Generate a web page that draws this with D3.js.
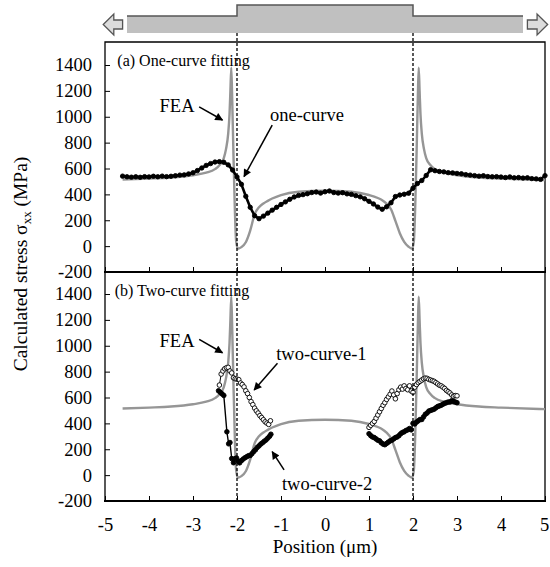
<!DOCTYPE html>
<html>
<head>
<meta charset="utf-8">
<script src="https://cdn.jsdelivr.net/npm/d3@7"></script>
<style>
  body { margin: 0; background: #fff; }
  svg { display: block; }
  text { font-family: "Liberation Serif", "Times New Roman", serif; fill: #000; }
</style>
</head>
<body>
<svg id="chart" width="550" height="567"></svg>
<script>
// ---- data: [position (um), stress (MPa)] ----
const xTicks = [-5, -4, -3, -2, -1, 0, 1, 2, 3, 4, 5];
const yTicks = [-200, 0, 200, 400, 600, 800, 1000, 1200, 1400];
const interfaces = [-2, 2];

const fea = [
  [-4.6,515],[-4.0,522],[-3.5,530],[-3.0,548],[-2.7,568],[-2.5,595],[-2.4,625],[-2.3,680],
  [-2.25,750],[-2.2,870],[-2.17,1020],[-2.15,1200],[-2.13,1380],[-2.11,1150],[-2.08,700],
  [-2.05,300],[-2.02,40],[-1.98,-20],[-1.9,-8],[-1.8,30],[-1.7,120],[-1.6,245],[-1.5,300],
  [-1.4,330],[-1.3,350],[-1.2,368],[-1.0,395],[-0.6,420],[0,428],[0.6,420],[1.0,395],
  [1.2,372],[1.3,355],[1.4,328],[1.5,285],[1.6,195],[1.7,100],[1.8,33],[1.9,-5],[1.98,-20],
  [2.02,40],[2.05,300],[2.08,700],[2.11,1150],[2.13,1380],[2.15,1200],[2.17,1020],[2.2,870],
  [2.25,750],[2.3,680],[2.4,625],[2.5,595],[2.7,568],[3.0,548],[3.5,530],[4.0,522],[5.0,510]
];

const oneCurve = [
  [-4.6,541],[-4.5,536],[-4.4,533],[-4.3,536],[-4.2,532],[-4.1,537],[-4.0,535],[-3.9,540],
  [-3.8,536],[-3.7,541],[-3.6,537],[-3.5,540],[-3.4,544],[-3.3,549],[-3.2,551],[-3.1,558],
  [-3.0,567],[-2.9,584],[-2.8,604],[-2.7,624],[-2.6,638],[-2.5,650],[-2.4,653],[-2.3,648],
  [-2.2,628],[-2.1,588],[-2.0,535],[-1.9,478],[-1.8,385],[-1.7,300],[-1.6,235],[-1.5,212],
  [-1.4,232],[-1.3,255],[-1.2,278],[-1.1,300],[-1.0,322],[-0.9,342],[-0.8,362],[-0.7,380],
  [-0.6,392],[-0.5,398],[-0.4,405],[-0.3,414],[-0.2,418],[-0.1,410],[0.0,420],[0.1,426],
  [0.2,414],[0.3,410],[0.4,413],[0.5,404],[0.6,400],[0.7,390],[0.8,381],[0.9,366],
  [1.0,346],[1.1,326],[1.2,302],[1.3,285],[1.4,304],[1.5,335],[1.6,383],[1.7,395],
  [1.8,401],[1.9,409],[2.0,448],[2.1,484],[2.2,507],[2.3,546],[2.4,590],[2.5,583],
  [2.6,577],[2.7,574],[2.8,568],[2.9,566],[3.0,562],[3.1,559],[3.2,553],[3.3,549],
  [3.4,545],[3.5,541],[3.6,544],[3.7,538],[3.8,536],[3.9,537],[4.0,534],[4.1,530],
  [4.2,535],[4.3,528],[4.4,530],[4.5,526],[4.6,528],[4.7,522],[4.8,520],[4.9,516],[5.0,545]
];

const twoCurve1Left = [
  [-2.40,696],[-2.36,781],[-2.32,805],[-2.28,822],[-2.24,830],[-2.20,833],[-2.16,805],[-2.12,790],
  [-2.08,752],[-2.04,745],[-2.00,742],[-1.96,738],[-1.92,712],[-1.88,700],[-1.84,682],[-1.80,652],
  [-1.76,630],[-1.72,600],[-1.68,568],[-1.64,545],[-1.60,518],[-1.56,497],[-1.52,480],[-1.48,460],
  [-1.44,445],[-1.40,428],[-1.36,412],[-1.32,402],[-1.28,392],[-1.24,420]
];
const twoCurve1Right = [
  [1.00,369],[1.04,385],[1.08,400],[1.12,415],[1.16,440],[1.20,465],[1.24,490],[1.28,515],
  [1.32,540],[1.36,560],[1.40,585],[1.44,605],[1.48,625],[1.52,650],[1.56,620],[1.60,590],
  [1.64,630],[1.68,660],[1.72,680],[1.76,665],[1.80,690],[1.84,670],[1.88,660],[1.92,690],
  [1.96,650],[2.00,640],[2.04,680],[2.08,700],[2.12,715],[2.16,725],[2.20,735],[2.24,745],
  [2.28,750],[2.32,748],[2.36,740],[2.40,735],[2.44,730],[2.48,725],[2.52,715],[2.56,705],
  [2.60,695],[2.64,690],[2.68,680],[2.72,670],[2.76,655],[2.80,645],[2.84,635],[2.88,620],
  [2.92,610],[2.96,615],[3.00,613]
];
const twoCurve2Left = [
  [-2.42,652],[-2.38,640],[-2.34,628],[-2.30,616],[-2.23,335],[-2.19,242],[-2.16,252],[-2.12,128],
  [-2.08,96],[-2.04,128],[-2.01,132],[-1.97,108],[-1.94,95],[-1.90,112],[-1.86,124],[-1.82,134],
  [-1.78,142],[-1.74,150],[-1.70,152],[-1.66,166],[-1.62,182],[-1.58,196],[-1.54,214],[-1.50,226],
  [-1.46,240],[-1.42,250],[-1.38,262],[-1.34,272],[-1.30,286],[-1.26,300],[-1.23,316]
];
const twoCurve2Right = [
  [1.00,320],[1.04,305],[1.08,295],[1.12,290],[1.16,280],[1.20,270],[1.24,265],[1.28,250],
  [1.32,240],[1.36,235],[1.40,245],[1.44,255],[1.48,265],[1.52,270],[1.56,280],[1.60,290],
  [1.64,295],[1.68,305],[1.72,320],[1.76,330],[1.80,335],[1.84,345],[1.88,350],[1.92,360],
  [1.96,350],[2.00,400],[2.04,395],[2.08,410],[2.12,420],[2.16,430],[2.20,430],[2.24,450],
  [2.28,470],[2.32,480],[2.36,495],[2.40,500],[2.44,505],[2.48,510],[2.52,520],[2.56,530],
  [2.60,535],[2.64,540],[2.68,548],[2.72,555],[2.76,560],[2.80,565],[2.84,565],[2.88,575],
  [2.92,570],[2.96,565],[3.00,560]
];

// ---- layout ----
const svg = d3.select("#chart");
const x = d3.scaleLinear().domain([-5, 5]).range([105, 545]);
const yTop = d3.scaleLinear().domain([-200, 1400]).range([272, 65]);
const yBot = d3.scaleLinear().domain([-200, 1400]).range([501, 294]);
const topFrameY = 42, botFrameY = 272;
const gray = "#969696";

// arrowhead marker
svg.append("defs").append("marker")
    .attr("id", "arrow")
    .attr("viewBox", "0 0 10 10")
    .attr("refX", 9).attr("refY", 5)
    .attr("markerUnits", "userSpaceOnUse")
    .attr("markerWidth", 9).attr("markerHeight", 8)
    .attr("orient", "auto")
  .append("path")
    .attr("d", "M0,0 L10,5 L0,10 z")
    .attr("fill", "#000");

// ---- sample schematic at the top ----
const sketch = svg.append("g");
sketch.append("rect")
    .attr("x", x(-4.5)).attr("y", 16)
    .attr("width", x(4.5) - x(-4.5)).attr("height", 17)
    .attr("fill", "#c0c0c0");
sketch.append("rect")
    .attr("x", x(-2)).attr("y", 5)
    .attr("width", x(2) - x(-2)).attr("height", 28)
    .attr("fill", "#c0c0c0");
sketch.append("path")
    .attr("d", `M${x(-4.5)},16 H${x(-2)} V5 H${x(2)} V16 H${x(4.5)}`)
    .attr("fill", "none").attr("stroke", "#555").attr("stroke-width", 1.5);

function hollowArrow(tip, base, end) {
  return `M${tip},24.5 L${base},14 L${base},20 L${end},20 L${end},29 L${base},29 L${base},35 Z`;
}
sketch.append("path")
    .attr("d", hollowArrow(x(-5.04), x(-4.8), x(-4.6)))
    .attr("fill", "#dcdcdc").attr("stroke", "#555").attr("stroke-width", 1.3);
sketch.append("path")
    .attr("d", hollowArrow(x(5.06), x(4.82), x(4.6)))
    .attr("fill", "#dcdcdc").attr("stroke", "#555").attr("stroke-width", 1.3);

// ---- panels ----
function panel(y, frameTop, showXLabels) {
  const g = svg.append("g");

  // y axis
  const ya = g.append("g")
      .attr("transform", `translate(${x(-5)},0)`)
      .call(d3.axisLeft(y).tickValues(yTicks).tickFormat(d => String(d))
              .tickSizeInner(-5).tickSizeOuter(0).tickPadding(13));
  ya.select(".domain").remove();
  ya.selectAll("text").attr("font-size", 18.5);
  ya.selectAll("line").attr("stroke-width", 1);

  // x axis
  const xa = g.append("g")
      .attr("transform", `translate(0,${y(-200)})`)
      .call(d3.axisBottom(x).tickValues(xTicks)
              .tickFormat(showXLabels ? (d => String(d)) : () => "")
              .tickSizeInner(-5).tickSizeOuter(0).tickPadding(17));
  xa.select(".domain").remove();
  xa.selectAll("line").attr("stroke-width", 1);
  xa.selectAll("text").attr("font-size", 18.5)
      .filter(d => d === 5).attr("dx", -1);

  // frame
  g.append("path")
      .attr("d", `M${x(-5)},${y(-200)} V${frameTop} H${x(5)} V${y(-200)}`)
      .attr("fill", "none").attr("stroke", "#000").attr("stroke-width", 1.3);
  g.append("line")
      .attr("x1", x(-5) - 1).attr("x2", x(5) + 1)
      .attr("y1", y(-200)).attr("y2", y(-200))
      .attr("stroke", "#000").attr("stroke-width", 2);

  // FEA curve
  g.append("path")
      .datum(fea)
      .attr("d", d3.line().x(d => x(d[0])).y(d => y(d[1])).curve(d3.curveMonotoneX))
      .attr("fill", "none").attr("stroke", gray).attr("stroke-width", 2.4);
  return g;
}

function series(g, y, data, filled, r, lw) {
  g.append("path")
      .datum(data)
      .attr("d", d3.line().x(d => x(d[0])).y(d => y(d[1])))
      .attr("fill", "none").attr("stroke", "#000").attr("stroke-width", lw);
  g.selectAll(null)
      .data(data)
      .enter().append("circle")
      .attr("cx", d => x(d[0])).attr("cy", d => y(d[1]))
      .attr("r", r)
      .attr("fill", filled ? "#000" : "#fff")
      .attr("stroke", "#000").attr("stroke-width", 0.9);
}

function label(g, y, pos, val, txt, size) {
  g.append("text")
      .attr("x", x(pos)).attr("y", y(val))
      .attr("font-size", size)
      .text(txt);
}
function pointer(g, y, from, to) {
  g.append("line")
      .attr("x1", x(from[0])).attr("y1", y(from[1]))
      .attr("x2", x(to[0])).attr("y2", y(to[1]))
      .attr("stroke", "#000").attr("stroke-width", 1.5)
      .attr("marker-end", "url(#arrow)");
}

// (a) one-curve fitting
const gA = panel(yTop, topFrameY, false);
series(gA, yTop, oneCurve, true, 2.2, 2.6);
label(gA, yTop, -4.72, 1392, "(a) One-curve fitting", 16);
label(gA, yTop, -3.76, 1037, "FEA", 18.5);
pointer(gA, yTop, [-2.86, 1077], [-2.33, 975]);
label(gA, yTop, -1.25, 967, "one-curve", 18.5);
pointer(gA, yTop, [-1.2, 936], [-1.84, 537]);

// (b) two-curve fitting
const gB = panel(yBot, botFrameY, true);
series(gB, yBot, twoCurve1Left, false, 2.3, 1);
series(gB, yBot, twoCurve1Right, false, 2.3, 1);
series(gB, yBot, twoCurve2Left, true, 2.3, 1.4);
series(gB, yBot, twoCurve2Right, true, 2.3, 1.4);
label(gB, yBot, -4.78, 1385, "(b) Two-curve fitting", 16);
label(gB, yBot, -3.76, 990, "FEA", 18.5);
pointer(gB, yBot, [-2.86, 1050], [-2.33, 946]);
label(gB, yBot, -1.11, 890, "two-curve-1", 18.5);
pointer(gB, yBot, [-1.08, 864], [-1.61, 658]);
label(gB, yBot, -0.98, -115, "two-curve-2", 18.5);
pointer(gB, yBot, [-0.93, 40], [-1.2, 181]);

// interface lines at +/-2 um
svg.selectAll(".iface")
    .data(interfaces)
    .enter().append("line")
    .attr("x1", d => x(d)).attr("x2", d => x(d))
    .attr("y1", 33).attr("y2", yBot(-200))
    .attr("stroke", "#000").attr("stroke-width", 1.3)
    .attr("stroke-dasharray", "3,2");

// axis titles
svg.append("text")
    .attr("x", (x(-5) + x(5)) / 2).attr("y", 553)
    .attr("text-anchor", "middle").attr("font-size", 19)
    .text("Position (\u03bcm)");

const yt = svg.append("text")
    .attr("transform", "translate(27,264) rotate(-90)")
    .attr("text-anchor", "middle").attr("font-size", 19.5);
yt.append("tspan").text("Calculated stress \u03c3");
yt.append("tspan").attr("font-size", 13).attr("dy", 4).text("xx");
yt.append("tspan").attr("dy", -4).text(" (MPa)");
</script>
</body>
</html>
